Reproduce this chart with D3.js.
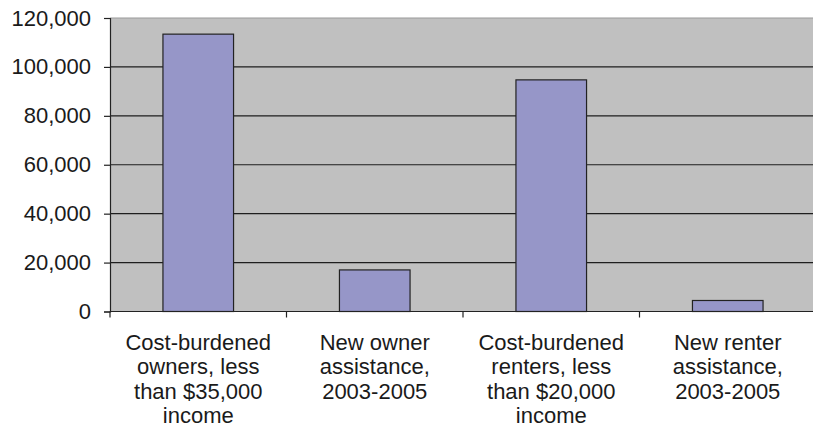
<!DOCTYPE html>
<html>
<head>
<meta charset="utf-8">
<script src="https://cdn.jsdelivr.net/npm/d3@7"></script>
<style>
  html, body { margin: 0; padding: 0; background: #fff; }
  svg { display: block; font-family: "Liberation Sans", Arial, sans-serif; }
</style>
</head>
<body>
<svg id="chart" width="813" height="438"></svg>
<script>
// Category labels, one entry per line of the wrapped label
const categories = [
  ["Cost-burdened", "owners, less", "than $35,000", "income"],
  ["New owner", "assistance,", "2003-2005"],
  ["Cost-burdened", "renters, less", "than $20,000", "income"],
  ["New renter", "assistance,", "2003-2005"]
];
const categoryKeys = ["owners-burdened", "owners-new", "renters-burdened", "renters-new"];
const values = [113400, 17000, 94700, 4500];
const yTicks = [0, 20000, 40000, 60000, 80000, 100000, 120000];

const svg = d3.select("#chart");
const plot = { left: 110, right: 816, top: 18, bottom: 311.5 };
const fontSize = 22;

const x = d3.scaleBand().domain(categoryKeys).range([plot.left, plot.right]);
const y = d3.scaleLinear().domain([0, 120000]).range([plot.bottom, plot.top]);

// Plot background
svg.append("rect")
  .attr("x", plot.left).attr("y", plot.top)
  .attr("width", plot.right - plot.left).attr("height", plot.bottom - plot.top)
  .attr("fill", "#c0c0c0");

// Horizontal gridlines
svg.append("g").selectAll("line")
  .data(yTicks.filter(t => t > 0))
  .join("line")
  .attr("x1", plot.left).attr("x2", plot.right)
  .attr("y1", d => y(d)).attr("y2", d => y(d))
  .attr("stroke", d => d === 120000 ? "#9a9a9a" : "#1e1e1e")
  .attr("stroke-width", 1.2);

// Bars
svg.append("g").selectAll("rect")
  .data(values)
  .join("rect")
  .attr("x", (d, i) => x(categoryKeys[i]) + x.bandwidth() * 0.3)
  .attr("width", x.bandwidth() * 0.4)
  .attr("y", d => y(d))
  .attr("height", d => y(0) - y(d))
  .attr("fill", "#9696c8")
  .attr("stroke", "#222")
  .attr("stroke-width", 1.2);

// Y axis
const yAxis = d3.axisLeft(y)
  .tickValues(yTicks)
  .tickSize(6)
  .tickPadding(13)
  .tickFormat(d3.format(","));
const gy = svg.append("g")
  .attr("transform", `translate(${plot.left},0)`)
  .attr("font-size", fontSize)
  .attr("font-family", "Liberation Sans, Arial, sans-serif")
  .call(yAxis);
gy.select(".domain").attr("stroke", "#222").attr("stroke-width", 1.2);
gy.selectAll(".tick line").attr("stroke", "#222").attr("stroke-width", 1.2);
gy.selectAll(".tick text")
  .style("font-size", fontSize + "px")
  .attr("fill", "#1a1a1a");

// X axis line with ticks at category boundaries
svg.append("line")
  .attr("x1", plot.left).attr("x2", plot.right)
  .attr("y1", y(0)).attr("y2", y(0))
  .attr("stroke", "#222").attr("stroke-width", 1.2);
svg.append("g").selectAll("line")
  .data(categoryKeys)
  .join("line")
  .attr("x1", d => x(d)).attr("x2", d => x(d))
  .attr("y1", y(0)).attr("y2", y(0) + 6)
  .attr("stroke", "#222").attr("stroke-width", 1.2);

// Category labels
const labels = svg.append("g").selectAll("text")
  .data(categories)
  .join("text")
  .attr("text-anchor", "middle")
  .style("font-size", fontSize + "px")
  .attr("fill", "#1a1a1a")
  .attr("x", (d, i) => x(categoryKeys[i]) + x.bandwidth() / 2)
  .attr("y", 350);
labels.selectAll("tspan")
  .data(d => d)
  .join("tspan")
  .attr("x", function () { return this.parentNode.getAttribute("x"); })
  .attr("dy", (d, i) => i === 0 ? 0 : 24.4)
  .text(d => d);
</script>
</body>
</html>
